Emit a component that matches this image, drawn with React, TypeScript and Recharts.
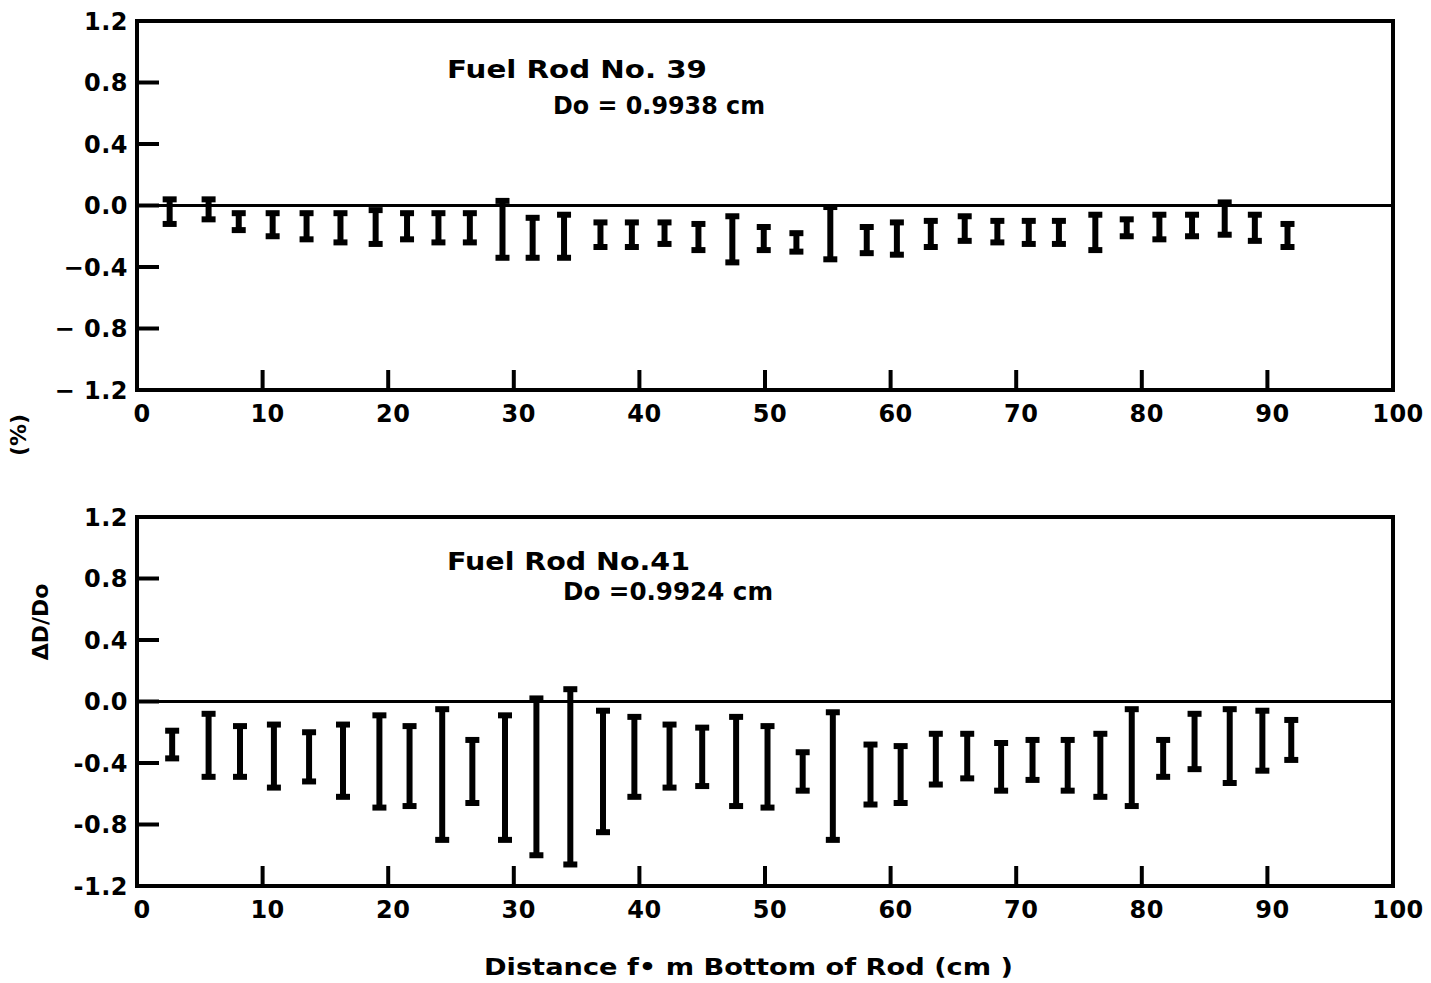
import {
  ComposedChart,
  ErrorBar,
  ReferenceArea,
  ReferenceLine,
  Scatter,
  XAxis,
  YAxis,
} from "recharts";

// error bar readings: position (cm), top and bottom of each bar (%)
const ROD39_X = [2.6, 5.7, 8.1, 10.8, 13.5, 16.2, 19.0, 21.5, 24.0, 26.5, 29.1, 31.5, 34.0, 36.9, 39.4, 42.0, 44.7, 47.4, 49.9, 52.5, 55.2, 58.1, 60.5, 63.2, 65.9, 68.5, 71.0, 73.4, 76.3, 78.8, 81.4, 84.0, 86.6, 89.0, 91.6];
const ROD39_HIGH = [0.04, 0.04, -0.05, -0.05, -0.05, -0.05, -0.03, -0.05, -0.05, -0.05, 0.03, -0.08, -0.06, -0.11, -0.11, -0.11, -0.12, -0.07, -0.14, -0.18, -0.01, -0.14, -0.11, -0.1, -0.07, -0.1, -0.1, -0.1, -0.06, -0.09, -0.06, -0.06, 0.02, -0.06, -0.12];
const ROD39_LOW = [-0.12, -0.09, -0.16, -0.2, -0.22, -0.24, -0.25, -0.22, -0.24, -0.24, -0.34, -0.34, -0.34, -0.27, -0.27, -0.25, -0.29, -0.37, -0.29, -0.3, -0.35, -0.31, -0.32, -0.27, -0.23, -0.24, -0.25, -0.25, -0.29, -0.2, -0.22, -0.2, -0.19, -0.23, -0.27];

const ROD41_X = [2.8, 5.7, 8.2, 10.9, 13.7, 16.4, 19.3, 21.7, 24.3, 26.7, 29.3, 31.8, 34.5, 37.1, 39.6, 42.4, 45.0, 47.7, 50.2, 53.0, 55.4, 58.4, 60.8, 63.6, 66.1, 68.8, 71.3, 74.1, 76.7, 79.2, 81.7, 84.2, 87.0, 89.6, 91.9];
const ROD41_HIGH = [-0.19, -0.08, -0.16, -0.15, -0.2, -0.15, -0.09, -0.16, -0.05, -0.25, -0.09, 0.02, 0.08, -0.06, -0.1, -0.15, -0.17, -0.1, -0.16, -0.33, -0.07, -0.28, -0.29, -0.21, -0.21, -0.27, -0.25, -0.25, -0.21, -0.05, -0.25, -0.08, -0.05, -0.06, -0.12];
const ROD41_LOW = [-0.37, -0.49, -0.49, -0.56, -0.52, -0.62, -0.69, -0.68, -0.9, -0.66, -0.9, -1.0, -1.06, -0.85, -0.62, -0.56, -0.55, -0.68, -0.69, -0.58, -0.9, -0.67, -0.66, -0.54, -0.5, -0.58, -0.51, -0.58, -0.62, -0.68, -0.49, -0.44, -0.53, -0.45, -0.38];

const X_TICKS = [0, 10, 20, 30, 40, 50, 60, 70, 80, 90, 100];
const Y_TICKS = [-1.2, -0.8, -0.4, 0, 0.4, 0.8, 1.2];
const TOP_Y_LABELS = ["− 1.2", "− 0.8", "−0.4", "0.0", "0.4", "0.8", "1.2"];
const BOTTOM_Y_LABELS = ["-1.2", "-0.8", "-0.4", "0.0", "0.4", "0.8", "1.2"];

const FONT = "'DejaVu Sans', sans-serif";
const INK = "#000";

const toPoints = (xs: number[], highs: number[], lows: number[]) =>
  xs.map((x, i) => ({
    x,
    y: (highs[i] + lows[i]) / 2,
    err: (highs[i] - lows[i]) / 2,
  }));

function YTick(props: any) {
  const { x, y, payload, labels } = props;
  const idx = Y_TICKS.indexOf(payload.value);
  const ax = x + 9;
  return (
    <g>
      <line x1={ax} x2={ax + 22} y1={y} y2={y} stroke={INK} strokeWidth={4} />
      <text x={x} y={y} dy="0.36em" textAnchor="end" fontFamily={FONT} fontWeight="bold" fontSize={24} letterSpacing={0.5} fill={INK}>
        {labels[idx]}
      </text>
    </g>
  );
}

function XTick(props: any) {
  const { x, y, payload } = props;
  const ay = y - 15;
  const inner = payload.value !== 0 && payload.value !== 100;
  return (
    <g>
      {inner && <line x1={x} x2={x} y1={ay} y2={ay - 20} stroke={INK} strokeWidth={4} />}
      <text x={x + 5} y={y} dy="0.71em" textAnchor="middle" fontFamily={FONT} fontWeight="bold" fontSize={24} letterSpacing={0.5} fill={INK}>
        {payload.value}
      </text>
    </g>
  );
}

function Panel({ data, labels }: { data: any[]; labels: string[] }) {
  return (
    <ComposedChart width={1431} height={440} margin={{ top: 21, right: 38, bottom: 20, left: 77 }}>
      <XAxis
        type="number"
        dataKey="x"
        domain={[0, 100]}
        ticks={X_TICKS}
        axisLine={false}
        tickLine={false}
        tickSize={0}
        tickMargin={15}
        tick={<XTick />}
        interval={0}
      />
      <YAxis
        type="number"
        dataKey="y"
        domain={[-1.2, 1.2]}
        ticks={Y_TICKS}
        allowDataOverflow
        width={60}
        axisLine={false}
        tickLine={false}
        tickSize={0}
        tickMargin={9}
        tick={<YTick labels={labels} />}
        interval={0}
      />
      <ReferenceArea x1={0} x2={100} y1={-1.2} y2={1.2} fill="none" stroke={INK} strokeWidth={4} />
      <ReferenceLine y={0} stroke={INK} strokeWidth={3} />
      <Scatter data={data} dataKey="y" shape={() => <g />} isAnimationActive={false}>
        <ErrorBar dataKey="err" direction="y" width={7} strokeWidth={6} stroke={INK} isAnimationActive={false} />
      </Scatter>
    </ComposedChart>
  );
}

const textStyle = { fontFamily: FONT, fontWeight: "bold" as const, fill: INK };

export default function App() {
  return (
    <div style={{ position: "absolute", left: 0, top: 0, width: 1431, height: 983, background: "#fff" }}>
      <div style={{ position: "absolute", left: 0, top: 0 }}>
        <Panel data={toPoints(ROD39_X, ROD39_HIGH, ROD39_LOW)} labels={TOP_Y_LABELS} />
      </div>
      <div style={{ position: "absolute", left: 0, top: 496 }}>
        <Panel data={toPoints(ROD41_X, ROD41_HIGH, ROD41_LOW)} labels={BOTTOM_Y_LABELS} />
      </div>
      <svg width={1431} height={983} style={{ position: "absolute", left: 0, top: 0, pointerEvents: "none" }}>
        <text x={447} y={78} fontSize={25} textLength={260} lengthAdjust="spacingAndGlyphs" {...textStyle}>Fuel  Rod  No.  39</text>
        <text x={553} y={114} fontSize={25} textLength={212} lengthAdjust="spacingAndGlyphs" {...textStyle}>Do = 0.9938 cm</text>
        <text x={447} y={570} fontSize={25} textLength={243} lengthAdjust="spacingAndGlyphs" {...textStyle}>Fuel  Rod  No.41</text>
        <text x={563} y={600} fontSize={25} textLength={210} lengthAdjust="spacingAndGlyphs" {...textStyle}>Do =0.9924 cm</text>
        <text x={484} y={975} fontSize={23} textLength={529} lengthAdjust="spacingAndGlyphs" {...textStyle}>Distance    f• m Bottom of Rod  (cm )</text>
        <text transform="translate(26,435) rotate(-90)" textAnchor="middle" fontSize={22} {...textStyle}>(%)</text>
        <text transform="translate(48,622) rotate(-90)" textAnchor="middle" fontSize={22} {...textStyle}>ΔD/Do</text>
      </svg>
    </div>
  );
}
